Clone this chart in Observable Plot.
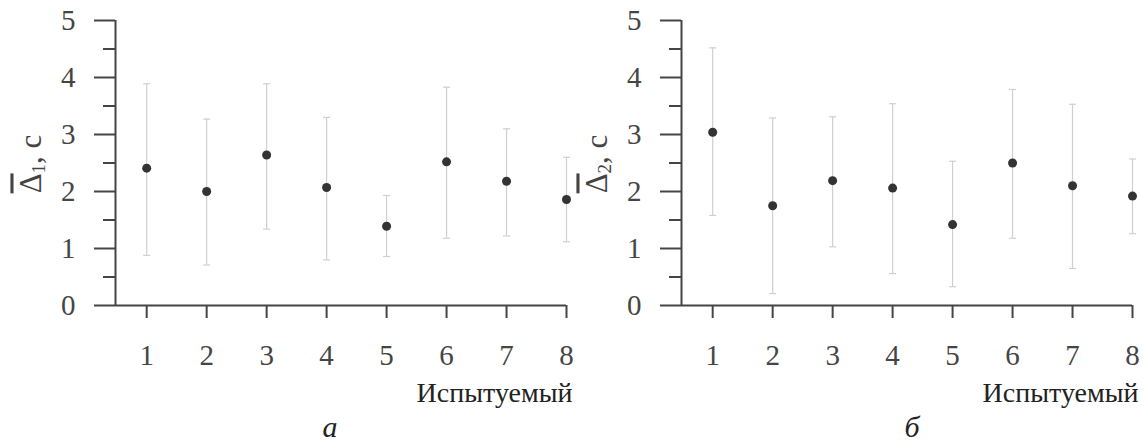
<!DOCTYPE html>
<html><head><meta charset="utf-8">
<script src="https://cdn.jsdelivr.net/npm/d3@7"></script>
<script src="https://cdn.jsdelivr.net/npm/@observablehq/plot@0.6"></script>
<style>
body{margin:0;background:#fff;}
#wrap{position:relative;width:1143px;height:443px;overflow:hidden;background:#fff;}
.panel{position:absolute;top:0;}
svg{overflow:visible;background:transparent !important;}
svg, svg text{font-family:"Liberation Serif","Times New Roman",serif !important;}
</style>
</head><body>
<div id="wrap"><div class="panel" id="pa" style="left:0px"></div><div class="panel" id="pb" style="left:566px"></div></div>
<script>
// Data
const subjects = [1, 2, 3, 4, 5, 6, 7, 8];
const mean1 = [2.41, 2.00, 2.64, 2.07, 1.39, 2.52, 2.18, 1.86];
const low1  = [0.88, 0.71, 1.34, 0.80, 0.86, 1.18, 1.22, 1.12];
const high1 = [3.89, 3.27, 3.89, 3.30, 1.93, 3.83, 3.10, 2.60];
const mean2 = [3.04, 1.75, 2.19, 2.06, 1.42, 2.50, 2.10, 1.92];
const low2  = [1.58, 0.21, 1.03, 0.56, 0.33, 1.18, 0.65, 1.26];
const high2 = [4.52, 3.29, 3.31, 3.54, 2.53, 3.79, 3.53, 2.57];
const yMajor = [0, 1, 2, 3, 4, 5];
const yMinor = [0.5, 1.5, 2.5, 3.5, 4.5];
const xLabel = "Испытуемый";
const ySymbol = "\u0394";
const yUnit = ", с";
const ySub1 = "1";
const ySub2 = "2";
const caption1 = "а";
const caption2 = "б";

const xDomain = [0.48, 8];
const yDomain = [0, 5];

const capSymbol = {
  draw(context, size) {
    const w = Math.sqrt(size) * 0.9;
    context.moveTo(-w, 0);
    context.lineTo(w, 0);
  }
};

function panel(mean, low, high, sub, caption, capDx) {
  const rows = subjects.map((s, i) => ({s, m: mean[i], lo: low[i], hi: high[i]}));
  const yLabel = ySymbol + sub + yUnit;
  const svg = Plot.plot({
    width: 571,
    height: 443,
    marginLeft: 115,
    marginRight: 5,
    marginTop: 20,
    marginBottom: 138,
    x: {domain: xDomain},
    y: {domain: yDomain},
    style: {fontSize: "29px", color: "#454545", background: "transparent", overflow: "visible"},
    marks: [
      Plot.ruleX(rows, {x: "s", y1: "lo", y2: "hi", stroke: "#cfcfcf", strokeWidth: 1.2}),
      Plot.dot(rows, {x: "s", y: "lo", symbol: capSymbol, r: 2.2, stroke: "#cfcfcf", strokeWidth: 1.2, fill: "none"}),
      Plot.dot(rows, {x: "s", y: "hi", symbol: capSymbol, r: 2.2, stroke: "#cfcfcf", strokeWidth: 1.2, fill: "none"}),
      Plot.dot(rows, {x: "s", y: "m", r: 4.5, fill: "#333", stroke: "none"}),
      Plot.axisY({ticks: yMajor, tickSize: 21, tickPadding: 19, strokeWidth: 2, fontSize: 29, tickFormat: d => String(d), label: null}),
      Plot.axisY({ticks: yMinor, tickSize: 12, strokeWidth: 2, text: null, label: null}),
      Plot.ruleX([xDomain[0]], {y1: yDomain[0], y2: yDomain[1], stroke: "#454545", strokeWidth: 2}),
      Plot.ruleY([yDomain[0]], {stroke: "#454545", strokeWidth: 2}),
      Plot.axisX({ticks: subjects, tickSize: 13, tickPadding: 26, strokeWidth: 2, fontSize: 29, tickFormat: d => String(d), label: null}),
      Plot.text([xLabel], {frameAnchor: "bottom-right", textAnchor: "end", lineAnchor: "middle", dx: 6, dy: 88, fill: "#222", fontSize: 28}),
      Plot.text([yLabel], {frameAnchor: "left", textAnchor: "middle", lineAnchor: "middle", rotate: -90, dx: -84, dy: 1, fill: "#444", fontSize: 31}),
      Plot.text([caption], {frameAnchor: "bottom", textAnchor: "middle", lineAnchor: "middle", dx: capDx, dy: 122, fill: "#222", fontSize: 30, fontStyle: "italic"})
    ]
  });
  // Rich formatting of the y label: overlined symbol with subscript
  d3.select(svg).selectAll("text").filter(function() { return this.textContent === yLabel; })
    .each(function() {
      const t = d3.select(this);
      t.text(null);
      t.append("tspan").style("text-decoration", "overline").text(ySymbol);
      t.append("tspan").attr("font-size", "19px").attr("baseline-shift", "-22%").text(sub);
      t.append("tspan").text(yUnit);
    });
  return svg;
}

document.getElementById("pa").append(panel(mean1, low1, high1, ySub1, caption1, -11));
document.getElementById("pb").append(panel(mean2, low2, high2, ySub2, caption2, 5));
</script>
</body></html>
